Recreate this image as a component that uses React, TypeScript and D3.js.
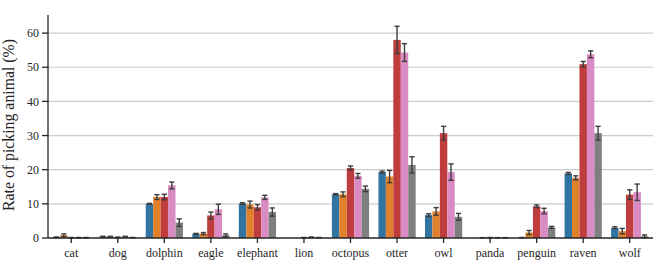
import React from "react";
import * as d3 from "d3";

const animals = ["cat", "dog", "dolphin", "eagle", "elephant", "lion", "octopus", "otter", "owl", "panda", "penguin", "raven", "wolf"];
const seriesNames = ["s1", "s2", "s3", "s4", "s5"];
const colors = ["#3274a1", "#e1812c", "#c03d3e", "#da8bc3", "#7f7f7f"];

const blue = [0.2, 0.4, 10.0, 1.2, 10.1, 0, 12.8, 19.3, 6.7, 0, 0.1, 18.9, 3.0];
const blueErr = [0.1, 0.1, 0.15, 0.15, 0.2, 0, 0.2, 0.3, 0.4, 0, 0.05, 0.3, 0.3];
const orange = [0.8, 0.4, 12.0, 1.3, 9.8, 0, 12.8, 18.0, 7.8, 0.1, 1.6, 17.6, 2.0];
const orangeErr = [0.4, 0.1, 0.7, 0.3, 1.0, 0, 0.7, 1.8, 1.1, 0, 0.6, 0.6, 0.8];
const red = [0.1, 0.2, 12.0, 6.6, 9.0, 0.1, 20.5, 58.0, 30.7, 0.1, 9.3, 50.9, 12.7];
const redErr = [0.05, 0.05, 0.8, 1.0, 0.8, 0.05, 0.6, 4.0, 2.0, 0.05, 0.4, 0.8, 1.4];
const pink = [0.1, 0.4, 15.4, 8.4, 11.9, 0.2, 18.2, 54.3, 19.3, 0.1, 7.9, 53.8, 13.4];
const pinkErr = [0.05, 0.1, 1.0, 1.5, 0.6, 0.1, 0.7, 2.6, 2.4, 0, 0.8, 1.0, 2.4];
const grey = [0.1, 0.1, 4.5, 0.8, 7.6, 0.1, 14.4, 21.4, 6.2, 0.1, 3.1, 30.7, 0.5];
const greyErr = [0.05, 0.05, 1.1, 0.4, 1.2, 0.05, 0.8, 2.4, 1.0, 0, 0.3, 2.0, 0.4];
const yTicks = [0, 10, 20, 30, 40, 50, 60];

const values = [blue, orange, red, pink, grey];
const errors = [blueErr, orangeErr, redErr, pinkErr, greyErr];

const W = 658;
const H = 263;
const left = 48;
const right = 653;
const top = 15;
const bottom = 238;
const font = "'Liberation Serif', 'DejaVu Serif', serif";

export default function App() {
  const x = d3.scaleBand().domain(animals).range([left, right]).padding(0);
  const inner = d3
    .scaleBand()
    .domain(seriesNames)
    .range([x.bandwidth() * 0.1, x.bandwidth() * 0.9])
    .padding(0);
  const y = d3.scaleLinear().domain([0, 65.3]).range([bottom, top]);
  const bw = inner.bandwidth();

  return (
    <svg width={W} height={H} style={{ position: "absolute", left: 0, top: 0, background: "#fff" }}>
      {/* grid */}
      {yTicks.slice(1).map((t) => (
        <line key={"g" + t} x1={left} x2={right} y1={y(t)} y2={y(t)} stroke="#cccccc" strokeWidth={1.2} />
      ))}
      {/* bars */}
      {seriesNames.map((s, si) =>
        animals.map((a, ai) => (
          <rect
            key={s + a}
            x={(x(a) as number) + (inner(s) as number)}
            y={y(values[si][ai])}
            width={bw}
            height={y(0) - y(values[si][ai])}
            fill={colors[si]}
          />
        ))
      )}
      {/* error bars */}
      {seriesNames.map((s, si) =>
        animals.map((a, ai) => {
          const cx = (x(a) as number) + (inner(s) as number) + bw / 2;
          const v = values[si][ai];
          const e = errors[si][ai];
          if (v <= 0) return null;
          const y1 = y(v + e);
          const y2 = y(Math.max(0, v - e));
          return (
            <g key={"e" + s + a} stroke="#3d3d3d" strokeWidth={1.4}>
              <line x1={cx} x2={cx} y1={y1} y2={y2} />
              <line x1={cx - 2.6} x2={cx + 2.6} y1={y1} y2={y1} />
              <line x1={cx - 2.6} x2={cx + 2.6} y1={y2} y2={y2} />
            </g>
          );
        })
      )}
      {/* y axis */}
      <line x1={left} x2={left} y1={top} y2={bottom} stroke="#262626" strokeWidth={1.3} />
      {yTicks.map((t) => (
        <g key={"y" + t}>
          <line x1={left - 6} x2={left} y1={y(t)} y2={y(t)} stroke="#262626" strokeWidth={1.3} />
          <text x={left - 9} y={y(t)} dy="0.35em" textAnchor="end" fontFamily={font} fontSize={12} fill="#262626">
            {t}
          </text>
        </g>
      ))}
      {/* x axis */}
      <line x1={left} x2={right} y1={bottom} y2={bottom} stroke="#262626" strokeWidth={1.3} />
      {animals.map((a) => {
        const cx = (x(a) as number) + x.bandwidth() / 2;
        return (
          <g key={"x" + a}>
            <line x1={cx} x2={cx} y1={bottom} y2={bottom + 5} stroke="#262626" strokeWidth={1.3} />
            <text x={cx} y={257} textAnchor="middle" fontFamily={font} fontSize={12} fill="#262626">
              {a}
            </text>
          </g>
        );
      })}
      <text
        transform="translate(14, 125) rotate(-90)"
        textAnchor="middle"
        fontFamily={font}
        fontSize={15.8}
        fill="#262626"
      >
        Rate of picking animal (%)
      </text>
    </svg>
  );
}
